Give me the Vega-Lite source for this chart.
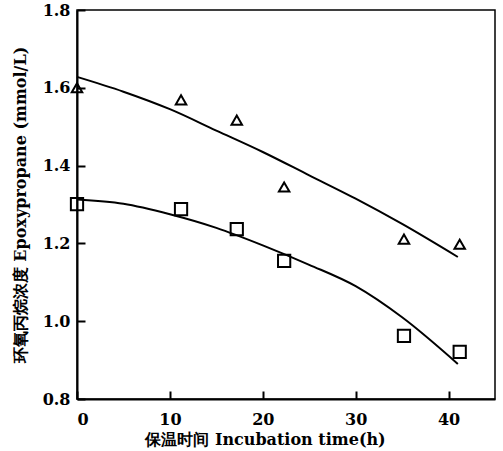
{
  "$schema": "https://vega.github.io/schema/vega-lite/v6.json",
  "autosize": "none",
  "width": 418,
  "height": 389,
  "padding": {"left": 77, "top": 10, "right": 8, "bottom": 52},
  "background": "white",
  "config": {
    "view": {"stroke": "black", "strokeWidth": 1.5},
    "font": "DejaVu Serif",
    "axis": {
      "domainColor": "black",
      "domainWidth": 2,
      "tickColor": "black",
      "tickWidth": 2,
      "tickSize": -8,
      "labelFont": "DejaVu Serif",
      "labelFontWeight": "bold",
      "labelFontSize": 16,
      "labelColor": "black",
      "titleFont": "DejaVu Serif",
      "titleFontWeight": "bold",
      "titleFontSize": 16,
      "titleColor": "black",
      "grid": false
    }
  },
  "datasets": {
    "pts": [
      {"s": "A", "t": 0, "c": 1.60},
      {"s": "A", "t": 11.2, "c": 1.569},
      {"s": "A", "t": 17.2, "c": 1.517},
      {"s": "A", "t": 22.3, "c": 1.345},
      {"s": "A", "t": 35.2, "c": 1.211},
      {"s": "A", "t": 41.2, "c": 1.198},
      {"s": "B", "t": 0, "c": 1.301},
      {"s": "B", "t": 11.2, "c": 1.288},
      {"s": "B", "t": 17.2, "c": 1.237},
      {"s": "B", "t": 22.3, "c": 1.155},
      {"s": "B", "t": 35.2, "c": 0.962},
      {"s": "B", "t": 41.2, "c": 0.921}
    ],
    "fit": [
      {"s": "A", "t": 0, "c": 1.628},
      {"s": "A", "t": 5, "c": 1.59},
      {"s": "A", "t": 10, "c": 1.545},
      {"s": "A", "t": 15, "c": 1.49},
      {"s": "A", "t": 20, "c": 1.435},
      {"s": "A", "t": 25, "c": 1.375},
      {"s": "A", "t": 30, "c": 1.315},
      {"s": "A", "t": 35, "c": 1.25},
      {"s": "A", "t": 41, "c": 1.165},
      {"s": "B", "t": 0, "c": 1.313},
      {"s": "B", "t": 5, "c": 1.302},
      {"s": "B", "t": 10, "c": 1.275},
      {"s": "B", "t": 15, "c": 1.24},
      {"s": "B", "t": 20, "c": 1.195},
      {"s": "B", "t": 25, "c": 1.145},
      {"s": "B", "t": 30, "c": 1.09},
      {"s": "B", "t": 35, "c": 1.01},
      {"s": "B", "t": 41, "c": 0.89}
    ]
  },
  "layer": [
    {
      "data": {"name": "fit"},
      "mark": {"type": "line", "color": "black", "strokeWidth": 2, "interpolate": "monotone"},
      "encoding": {
        "x": {"field": "t", "type": "quantitative", "scale": {"domain": [0, 45], "nice": false},
          "axis": {"values": [0, 10, 20, 30, 40], "title": "保温时间 Incubation time(h)", "titleX": 188, "titlePadding": 4, "labelPadding": 20}},
        "y": {"field": "c", "type": "quantitative", "scale": {"domain": [0.8, 1.8], "nice": false, "zero": false},
          "axis": {"values": [0.8, 1.0, 1.2, 1.4, 1.6, 1.8], "format": ".1f", "title": "环氧丙烷浓度 Epoxypropane (mmol/L)", "titlePadding": 14, "labelPadding": 15}},
        "detail": {"field": "s"}
      }
    },
    {
      "data": {"name": "pts"},
      "mark": {"type": "point", "filled": false, "color": "black", "strokeWidth": 2, "opacity": 1},
      "encoding": {
        "x": {"field": "t", "type": "quantitative"},
        "y": {"field": "c", "type": "quantitative"},
        "shape": {"field": "s", "type": "nominal", "scale": {"domain": ["A", "B"], "range": ["triangle-up", "square"]}, "legend": null},
        "size": {"field": "s", "type": "nominal", "scale": {"domain": ["A", "B"], "range": [110, 150]}, "legend": null}
      }
    }
  ]
}
